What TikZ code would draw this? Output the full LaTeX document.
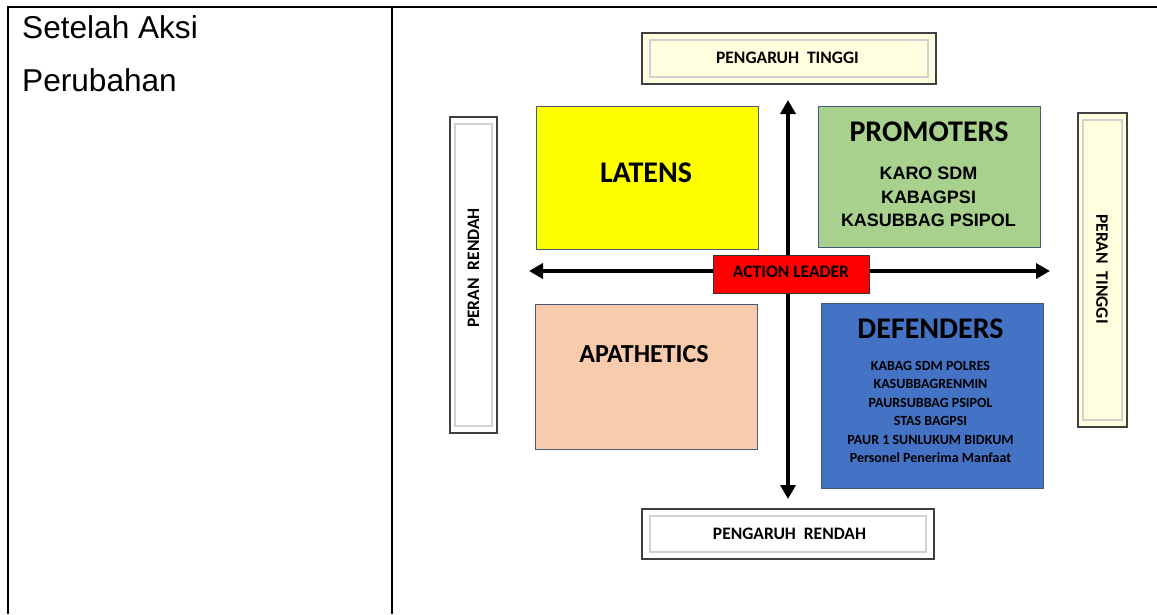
\documentclass[tikz,border=0pt]{standalone}
\usepackage{fontspec}
\setmainfont{Liberation Sans}
\newfontfamily\calfont{Carlito}
\usetikzlibrary{arrows.meta}
\definecolor{quadline}{RGB}{70,90,120}
\definecolor{paleyellow}{RGB}{255,255,224}
\definecolor{latensfill}{RGB}{255,255,0}
\definecolor{promofill}{RGB}{169,209,142}
\definecolor{apafill}{RGB}{248,203,173}
\definecolor{deffill}{RGB}{68,114,196}
\definecolor{leaderfill}{RGB}{255,0,0}

\begin{document}
\begin{tikzpicture}[x=1pt,y=-1pt,
  quad/.style={shape=rectangle,draw=quadline,line width=1pt,inner sep=0pt},
  frame/.style={shape=rectangle,draw=black!75,line width=1.6pt,inner sep=0pt},
  bevel/.style={draw=black!18,line width=2pt},
  tagtext/.style={font=\calfont\bfseries\fontsize{17.5}{20}\selectfont,inner sep=0pt},
  quadtitle/.style={font=\calfont\bfseries\fontsize{30}{36}\selectfont,inner sep=0pt},
  axis/.style={line width=4.5pt,{Triangle[width=15pt,length=14pt]}-{Triangle[width=15pt,length=14pt]}}]
\useasboundingbox (0,0) rectangle (1157,614);
% table lines
\draw [line width=2pt] (8,614) -- (8,7) -- (1157,7);
\draw [line width=2pt] (392,7) -- (392,614);
\node (aksi) at (22,38.5) [anchor=base west,inner sep=0pt,font=\fontsize{31.6}{36}\selectfont] {Setelah Aksi};
\node (ubah) at (22,91) [anchor=base west,inner sep=0pt,font=\fontsize{31.6}{36}\selectfont] {Perubahan};
% frames
\node (ptinggi) at (789,58.5) [frame,fill=paleyellow,minimum width=294pt,minimum height=51pt] {};
\node (prendah) at (788,534) [frame,fill=white,minimum width=292pt,minimum height=50pt] {};
\node (rrendah) at (473.5,275) [frame,fill=white,minimum width=47pt,minimum height=316pt] {};
\node (rtinggi) at (1102.5,270) [frame,fill=paleyellow,minimum width=49pt,minimum height=314pt] {};
\draw [bevel] ([shift={(9,8)}]ptinggi.north west) rectangle ([shift={(-9,-8)}]ptinggi.south east);
\draw [bevel] ([shift={(9,8)}]prendah.north west) rectangle ([shift={(-9,-8)}]prendah.south east);
\draw [bevel] ([shift={(6,8)}]rrendah.north west) rectangle ([shift={(-6,-8)}]rrendah.south east);
\draw [bevel] ([shift={(6,8)}]rtinggi.north west) rectangle ([shift={(-6,-8)}]rtinggi.south east);
\node (ptinggitext) at (787.5,58) [tagtext] {PENGARUH\hspace{0.45em}TINGGI};
\node (prendahtext) at (789.5,534) [tagtext] {PENGARUH\hspace{0.45em}RENDAH};
\node (rrendahtext) at (473.5,268) [tagtext,rotate=90] {PERAN\hspace{0.45em}RENDAH};
\node (rtinggitext) at (1102,269) [tagtext,rotate=-90] {PERAN\hspace{0.45em}TINGGI};
% quadrants
\node (latens) at (647,177.5) [quad,fill=latensfill,minimum width=222pt,minimum height=143pt] {};
\node (promo) at (929,176.5) [quad,fill=promofill,minimum width=222pt,minimum height=141pt] {};
\node (apa) at (646,376.5) [quad,fill=apafill,minimum width=222pt,minimum height=145pt] {};
\node (def) at (932,395.5) [quad,fill=deffill,minimum width=222pt,minimum height=185pt] {};
\node (latenstitle) at (646,173) [quadtitle] {LATENS};
\node (promotitle) at (929,132) [quadtitle] {PROMOTERS};
\node (apatitle) at (644,354) [quadtitle,font=\calfont\bfseries\fontsize{26}{30}\selectfont] {APATHETICS};
\node (deftitle) at (930.5,329) [quadtitle] {DEFENDERS};
\node (promolist) at (928.5,197) [inner sep=0pt,align=center,font=\bfseries\fontsize{18}{23.5}\selectfont] {KARO SDM\\KABAGPSI\\KASUBBAG PSIPOL};
\node (deflist) at (930.5,412) [inner sep=0pt,align=center,font=\calfont\bfseries\fontsize{14}{18.4}\selectfont] {KABAG SDM POLRES\\KASUBBAGRENMIN\\PAURSUBBAG PSIPOL\\STAS BAGPSI\\PAUR 1 SUNLUKUM BIDKUM\\Personel Penerima Manfaat};
% axes
\coordinate (up) at (788,100);
\coordinate (down) at (788,499);
\coordinate (left) at (529,271);
\coordinate (right) at (1050,271);
\draw [axis] (down) -- (up);
\draw [axis] (left) -- (right);
\node (leader) at (791,274) [shape=rectangle,draw=black!80,line width=1pt,fill=leaderfill,minimum width=156pt,minimum height=38pt,inner sep=0pt] {};
\node (leadertext) at (791,272) [tagtext] {ACTION LEADER};
\end{tikzpicture}
\end{document}
